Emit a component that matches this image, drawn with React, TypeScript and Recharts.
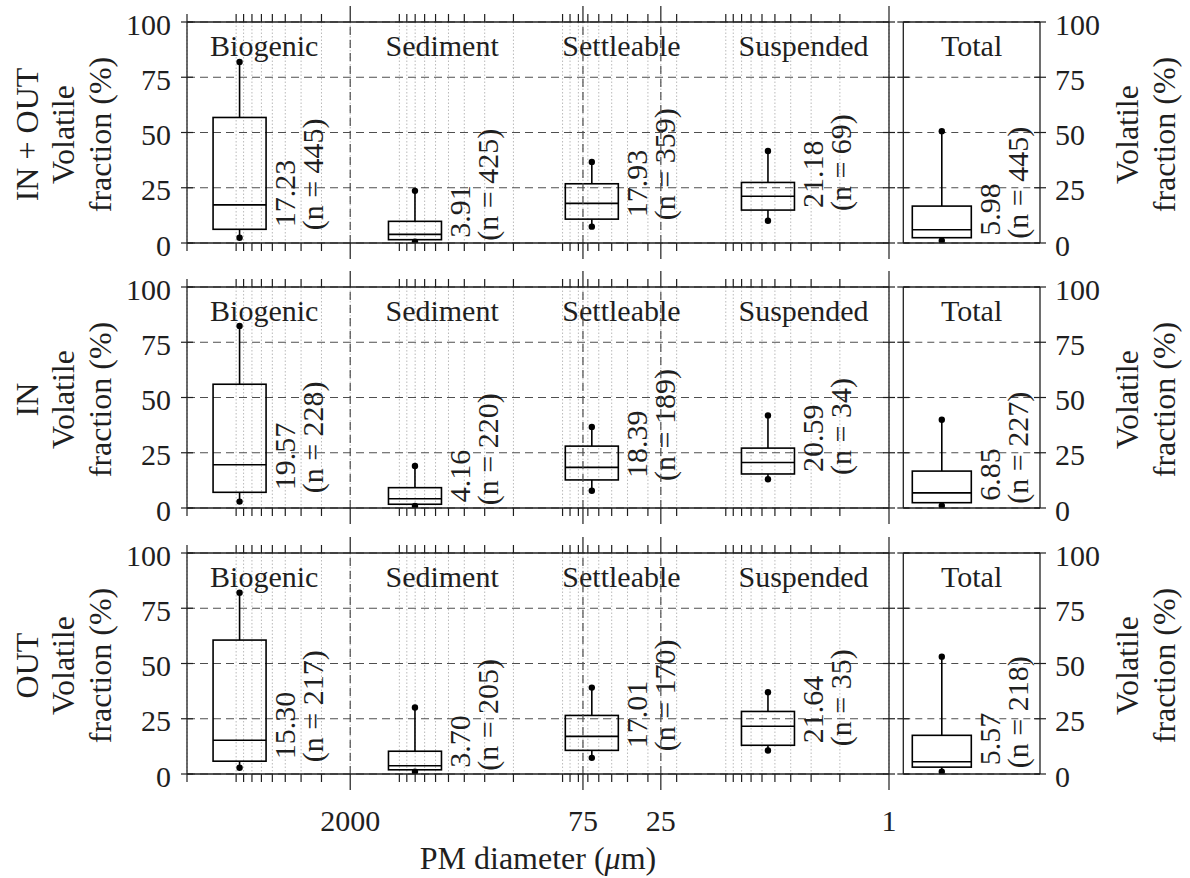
import { ComposedChart, Bar, XAxis, YAxis, CartesianGrid, ReferenceLine } from 'recharts';

// classes along the particle diameter axis, and where each box sits (µm)
const categories = ['Biogenic', 'Sediment', 'Settleable', 'Suspended'];
const categoryDiameters = [9500, 800, 66, 5.5];
const rowNames = ['IN + OUT', 'IN', 'OUT'];

// per class: [lower whisker, Q1, Q3, upper whisker]; the 5th entry is "Total"
const inOutBoxes = [[2.4, 6.2, 56.8, 81.9], [0.6, 1.5, 9.8, 23.6], [7.4, 10.8, 26.8, 36.7], [10.1, 14.9, 27.4, 41.6], [1.0, 2.4, 16.7, 50.6]];
const inOutMedians = [17.23, 3.91, 17.93, 21.18, 5.98];
const inOutCounts = [445, 425, 359, 69, 445];

const inBoxes = [[2.9, 7.1, 56.0, 82.4], [0.9, 1.7, 9.2, 19.0], [7.8, 12.7, 28.0, 36.7], [13.0, 15.4, 27.1, 41.9], [1.0, 2.4, 16.7, 39.9]];
const inMedians = [19.57, 4.16, 18.39, 20.59, 6.85];
const inCounts = [228, 220, 189, 34, 227];

const outBoxes = [[2.8, 5.8, 60.6, 82.0], [1.0, 1.9, 10.3, 30.1], [7.3, 10.7, 26.5, 39.1], [10.6, 13.0, 28.3, 37.0], [1.0, 3.1, 17.5, 53.1]];
const outMedians = [15.30, 3.70, 17.01, 21.64, 5.57];
const outCounts = [217, 205, 170, 35, 218];

// axis ticks
const yTicks = [0, 25, 50, 75, 100];
const labelledDiameters = [2000, 75, 25, 1];
const dividerDiameters = [2000, 75, 25];
const minorDiameters = [
  20000, 10000, 9000, 8000, 7000, 6000, 5000, 4000, 3000, 2000,
  1000, 900, 800, 700, 600, 500, 400, 300, 200,
  100, 90, 80, 70, 60, 50, 40, 30, 20,
  10, 9, 8, 7, 6, 5, 4, 3, 2, 1,
];
const xTicks = [...minorDiameters, 75, 25];

const FONT = '"Liberation Serif", "Times New Roman", serif';
const INK = '#1f1f1f';
const GRID = '#4f4f4f';
const MINOR = '#bababa';

const PLOT_H = 221;
const FIRST_TOP = 21.7;
const ROW_PITCH = 265.4;

const rows = [
  { name: rowNames[0], boxes: inOutBoxes, medians: inOutMedians, counts: inOutCounts },
  { name: rowNames[1], boxes: inBoxes, medians: inMedians, counts: inCounts },
  { name: rowNames[2], boxes: outBoxes, medians: outMedians, counts: outCounts },
];

const makeDatum = (row: any, i: number, name: string, d?: number) => {
  const [low, q1, q3, high] = row.boxes[i];
  return { name, d, low, q1, q3, high, med: row.medians[i], n: row.counts[i], range: [low, high] };
};

const BoxShape = (props: any) => {
  const { x, y, width, height, payload, showName } = props;
  if (payload == null) return null;
  const { low, q1, q3, high, med, n, name } = payload;
  const top = Math.min(y, y + height);
  const bottom = Math.max(y, y + height);
  // linear y mapping taken from the bar the library placed for [low, high]
  const py = (v: number) => bottom - ((v - low) / (high - low)) * (bottom - top);
  const cx = x + width / 2;
  const right = x + width;
  const t1 = right + 18;
  const t2 = right + 46;
  const ty = py(q1);
  return (
    <g>
      <line x1={cx} x2={cx} y1={py(high)} y2={py(q3)} stroke="#000" strokeWidth={1.6} />
      <line x1={cx} x2={cx} y1={py(q1)} y2={py(low)} stroke="#000" strokeWidth={1.6} />
      <rect x={x} y={py(q3)} width={width} height={py(q1) - py(q3)} fill="none" stroke="#000" strokeWidth={1.6} />
      <line x1={x} x2={right} y1={py(med)} y2={py(med)} stroke="#000" strokeWidth={1.6} />
      <circle cx={cx} cy={py(high)} r={3.2} fill="#000" />
      <circle cx={cx} cy={py(low)} r={3.2} fill="#000" />
      <text x={t1} y={ty - 2} transform={`rotate(-90 ${t1} ${ty - 2})`} dominantBaseline="central" fontFamily={FONT} fontSize={30} fill={INK}>
        {med.toFixed(2)}
      </text>
      <text x={t2} y={ty + 1} transform={`rotate(-90 ${t2} ${ty + 1})`} dominantBaseline="central" fontFamily={FONT} fontSize={30} fill={INK}>
        {`(n = ${n})`}
      </text>
      {showName && (
        <text x={x - 3} y={py(100) + 34} fontFamily={FONT} fontSize={30} fill={INK}>
          {name}
        </text>
      )}
    </g>
  );
};

const BottomTick = (props: any) => {
  const { x, y, payload, showLabel } = props;
  const v = payload.value;
  const major = labelledDiameters.includes(v);
  return (
    <g>
      <line x1={x} x2={x} y1={y} y2={y + (major ? 16 : 8)} stroke={INK} strokeWidth={1.2} />
      {showLabel && major && (
        <text x={x} y={y + 46} textAnchor="middle" dominantBaseline="central" fontFamily={FONT} fontSize={30} fill={INK}>
          {v}
        </text>
      )}
    </g>
  );
};

const TopTick = (props: any) => {
  const { x, y, payload } = props;
  const major = labelledDiameters.includes(payload.value);
  return <line x1={x} x2={x} y1={y} y2={y - (major ? 16 : 8)} stroke={INK} strokeWidth={1.2} />;
};

const YTickLine = (props: any) => {
  const { x, y } = props;
  return <line x1={x - 6} x2={x + 6} y1={y} y2={y} stroke={INK} strokeWidth={1.2} />;
};

const LeftYTick = (props: any) => {
  const { x, y, payload } = props;
  return (
    <g>
      <line x1={x - 6} x2={x + 6} y1={y} y2={y} stroke={INK} strokeWidth={1.2} />
      <text x={x - 16} y={y + 2} textAnchor="end" dominantBaseline="central" fontFamily={FONT} fontSize={30} fill={INK}>
        {payload.value}
      </text>
    </g>
  );
};

const RightYTick = (props: any) => {
  const { x, y, payload } = props;
  return (
    <g>
      <line x1={x - 6} x2={x + 6} y1={y} y2={y} stroke={INK} strokeWidth={1.2} />
      <text x={x + 15} y={y + 2} textAnchor="start" dominantBaseline="central" fontFamily={FONT} fontSize={30} fill={INK}>
        {payload.value}
      </text>
    </g>
  );
};

// rotated multi-line axis title; offsets are measured from the plot edge of the axis
const StackedTitle = (props: any) => {
  const { viewBox, lines, offsets, side } = props;
  if (!viewBox) return null;
  const edge = side === 'left' ? viewBox.x + viewBox.width : viewBox.x;
  const cy = viewBox.y + viewBox.height / 2 + 2;
  return (
    <g>
      {lines.map((t: string, i: number) => {
        const tx = edge + offsets[i];
        return (
          <text key={t} x={tx} y={cy} transform={`rotate(-90 ${tx} ${cy})`} textAnchor="middle" dominantBaseline="central" fontFamily={FONT} fontSize={32} fill={INK}>
            {t}
          </text>
        );
      })}
    </g>
  );
};

const XTitle = (props: any) => {
  const vb = props.viewBox;
  if (!vb) return null;
  return (
    <text x={vb.x + vb.width / 2} y={vb.y + 84} textAnchor="middle" dominantBaseline="central" fontFamily={FONT} fontSize={32} fill={INK}>
      PM diameter (<tspan fontStyle="italic">μ</tspan>m)
    </text>
  );
};

const axisLine = { stroke: INK, strokeWidth: 1.3 };

const PanelRow = ({ row, index }: any) => {
  const top = FIRST_TOP + index * ROW_PITCH;
  const last = index === rows.length - 1;
  const padTop = 30;
  const padBottom = last ? 110 : 30;
  const height = padTop + PLOT_H + padBottom;
  const mainData = categories.map((c, i) => makeDatum(row, i, c, categoryDiameters[i]));
  const totalData = [makeDatum(row, 4, 'Total')];
  const noMargin = { top: 0, right: 0, bottom: 0, left: 0 };

  return (
    <>
      <div style={{ position: 'absolute', left: 0, top: top - padTop }}>
        <ComposedChart width={905} height={height} data={mainData} margin={noMargin}>
          <CartesianGrid xAxisId="bottom" yAxisId="left" horizontal={false} stroke={MINOR} strokeDasharray="1.5 2" />
          <CartesianGrid xAxisId="bottom" yAxisId="left" vertical={false} stroke={GRID} strokeWidth={1.2} strokeDasharray="8 5" />
          {dividerDiameters.map((v) => (
            <ReferenceLine key={v} x={v} xAxisId="bottom" yAxisId="left" stroke={GRID} strokeWidth={1.2} strokeDasharray="8 5" />
          ))}
          <XAxis xAxisId="box" dataKey="d" type="number" scale="log" domain={[1, 20000]} allowDataOverflow reversed hide tickCount={2} />
          <XAxis
            xAxisId="bottom"
            dataKey="d"
            type="number"
            scale="log"
            domain={[1, 20000]}
            allowDataOverflow
            reversed
            ticks={xTicks}
            interval={0}
            height={padBottom}
            tickSize={0}
            tickMargin={0}
            tickLine={false}
            axisLine={axisLine}
            tick={(p: any) => <BottomTick {...p} showLabel={last} />}
            label={last ? { content: (p: any) => <XTitle {...p} /> } : undefined}
          />
          <XAxis
            xAxisId="top"
            orientation="top"
            dataKey="d"
            type="number"
            scale="log"
            domain={[1, 20000]}
            allowDataOverflow
            reversed
            ticks={xTicks}
            interval={0}
            height={padTop}
            tickSize={0}
            tickMargin={0}
            tickLine={false}
            axisLine={axisLine}
            tick={(p: any) => <TopTick {...p} />}
          />
          <YAxis
            yAxisId="left"
            type="number"
            domain={[0, 100]}
            allowDataOverflow
            ticks={yTicks}
            interval={0}
            width={187}
            tickSize={0}
            tickMargin={0}
            tickLine={false}
            axisLine={axisLine}
            tick={(p: any) => <LeftYTick {...p} />}
            label={{
              content: (p: any) => (
                <StackedTitle {...p} side="left" lines={[row.name, 'Volatile', 'fraction (%)']} offsets={[-160, -124, -87]} />
              ),
            }}
          />
          <YAxis
            yAxisId="right"
            orientation="right"
            type="number"
            domain={[0, 100]}
            allowDataOverflow
            ticks={yTicks}
            interval={0}
            width={16}
            tickSize={0}
            tickMargin={0}
            tickLine={false}
            axisLine={axisLine}
            tick={(p: any) => <YTickLine {...p} />}
          />
          <Bar
            xAxisId="box"
            yAxisId="left"
            dataKey="range"
            barSize={53}
            isAnimationActive={false}
            shape={(p: any) => <BoxShape {...p} showName />}
          />
        </ComposedChart>
      </div>

      <div style={{ position: 'absolute', left: 890, top: top - padTop }}>
        <ComposedChart width={300} height={height} data={totalData} margin={noMargin}>
          <CartesianGrid xAxisId="box" yAxisId="left" vertical={false} stroke={GRID} strokeWidth={1.2} strokeDasharray="7 5" />
          <XAxis
            xAxisId="box"
            dataKey="name"
            type="category"
            padding={{ left: 0, right: 59 }}
            height={padBottom}
            tick={false}
            tickLine={false}
            axisLine={axisLine}
          />
          <XAxis
            xAxisId="title"
            orientation="top"
            dataKey="name"
            type="category"
            height={padTop}
            tickSize={0}
            tickMargin={0}
            tickLine={false}
            interval={0}
            axisLine={axisLine}
            tick={(p: any) => (
              <text x={p.x} y={p.y + 34} textAnchor="middle" fontFamily={FONT} fontSize={30} fill={INK}>
                {p.payload.value}
              </text>
            )}
          />
          <YAxis
            yAxisId="left"
            type="number"
            domain={[0, 100]}
            allowDataOverflow
            ticks={yTicks}
            interval={0}
            width={13.3}
            tickSize={0}
            tickMargin={0}
            tickLine={false}
            axisLine={axisLine}
            tick={(p: any) => <YTickLine {...p} />}
          />
          <YAxis
            yAxisId="right"
            orientation="right"
            type="number"
            domain={[0, 100]}
            allowDataOverflow
            ticks={yTicks}
            interval={0}
            width={150}
            tickSize={0}
            tickMargin={0}
            tickLine={false}
            axisLine={axisLine}
            tick={(p: any) => <RightYTick {...p} />}
            label={{
              content: (p: any) => <StackedTitle {...p} side="right" lines={['Volatile', 'fraction (%)']} offsets={[87, 124]} />,
            }}
          />
          <Bar
            xAxisId="box"
            yAxisId="left"
            dataKey="range"
            barSize={59}
            isAnimationActive={false}
            shape={(p: any) => <BoxShape {...p} showName={false} />}
          />
        </ComposedChart>
      </div>
    </>
  );
};

export default function App() {
  return (
    <div style={{ position: 'absolute', left: 0, top: 0, width: 1190, height: 878, background: '#fff', overflow: 'hidden' }}>
      {rows.map((row, r) => (
        <PanelRow key={row.name} row={row} index={r} />
      ))}
    </div>
  );
}
